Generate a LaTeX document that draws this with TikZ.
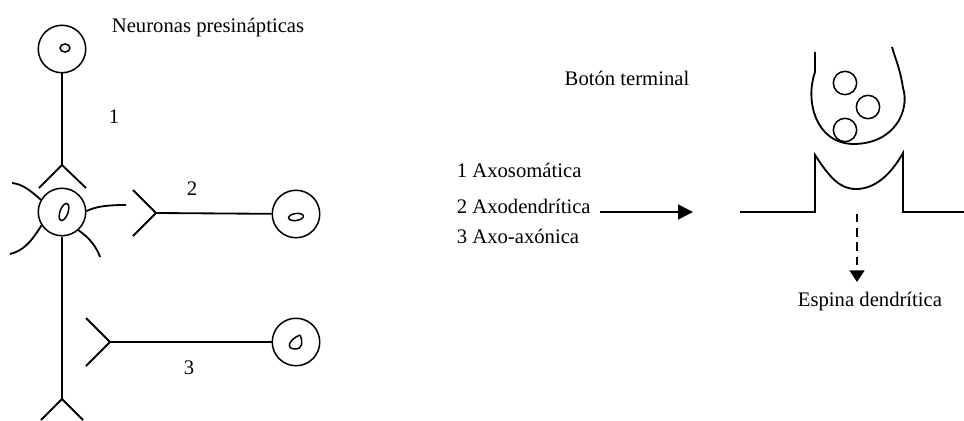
\documentclass[tikz,border=0pt]{standalone}
\usepackage{fontspec}
\setmainfont{Liberation Serif}
\usetikzlibrary{arrows.meta}

\tikzset{
  soma/.style={draw,circle,line width=0.9pt,minimum size=28.5pt,inner sep=0pt},
  vesicle/.style={draw,circle,line width=0.9pt,minimum size=14pt,inner sep=0pt},
  fiber/.style={line width=1.1pt},
}

\begin{document}
\begin{tikzpicture}[x=0.6pt,y=-0.6pt]
\useasboundingbox (0,0) rectangle (964,420);

% cells on the left
\begin{scope}[every node/.style={soma}]
    \node (pre1) at (62,49) {};
    \node (post) at (62,212) {};
    \node (pre2) at (296,214) {};
    \node (pre3) at (296,342) {};
\end{scope}
% nuclei
\begin{scope}[line width=0.9pt]
    \draw (65,48) ellipse [x radius=5, y radius=4];
    \draw[rotate around={-20:(64,212)}] (64,212) ellipse [x radius=4, y radius=9];
    \draw[rotate around={8:(296,217)}] (296,217) ellipse [x radius=7.5, y radius=3.5];
    \draw (300,335) .. controls (288,340) and (286,349) .. (295,349)
                    .. controls (303,349) and (303,342) .. (300,335);
\end{scope}

% branching points of the axons
\coordinate (v1) at (62,165);
\coordinate (v2) at (156,213);
\coordinate (v3) at (110,342);
\coordinate (v4) at (62,399);

\begin{scope}[fiber]
    \draw (pre1) -- (v1);
    \draw (39,188) -- (v1) -- (86,188);
    \draw (pre2) -- (v2);
    \draw (133,190) -- (v2) -- (133,236);
    \draw (pre3) -- (v3);
    \draw (86,318) -- (v3) -- (86,366);
    \draw (post) -- (v4);
    \draw (41,420) -- (v4) -- (83,420);
    % dendrites
    \draw (post.150) .. controls (30,190) and (22,184) .. (12,183);
    \draw (post.2) .. controls (96,206) and (110,205) .. (126,205);
    \draw (post.213) .. controls (30,244) and (22,251) .. (10,254);
    \draw (post.312) .. controls (90,238) and (97,248) .. (100,257);
\end{scope}

% synapse on the right
\begin{scope}[fiber]
    \draw (815,52) -- (815,72) .. controls (805,100) and (815,143) .. (853,144)
          .. controls (895,144) and (910,110) .. (903,88)
          .. controls (900,68) and (895,58) .. (892,47);
    \draw (740,212) -- (815,212) -- (815,155) .. controls (830,178) and (840,189) .. (856,189)
          .. controls (874,189) and (890,176) .. (903,153) -- (903,212) -- (964,212);
\end{scope}
\begin{scope}[every node/.style={vesicle}]
    \node (ves1) at (845,83) {};
    \node (ves2) at (868,107) {};
    \node (ves3) at (845,130) {};
\end{scope}

\begin{scope}[every node/.style={font=\fontsize{12.4}{15}\selectfont}]
    \node[anchor=base west] (title) at (106,33) {Neuronas presinápticas};
    \node[anchor=base] (n1) at (114,123) {1};
    \node[anchor=base] (n2) at (192,195) {2};
    \node[anchor=base] (n3) at (189,374) {3};
    \node[anchor=base west] (ax1) at (451,177) {1 Axosomática};
    \node[anchor=base west] (ax2) at (451,213) {2 Axodendrítica};
    \node[anchor=base west] (ax3) at (451,243) {3 Axo-axónica};
    \node[anchor=base] (boton) at (627,85) {Botón terminal};
    \node[anchor=base] (espina) at (870,306) {Espina dendrítica};
\end{scope}

\coordinate (a1) at (600,212);
\coordinate (a2) at (693,212);
\coordinate (d1) at (857,214);
\coordinate (d2) at (857,282);
\begin{scope}[>={Triangle[length=9pt,width=9pt]}]
    \draw[->,line width=0.9pt] (a1) -- (a2);
    \draw[->,line width=0.9pt,dash pattern=on 5pt off 3.5pt,
          >={Triangle[length=7pt,width=9pt]}] (d1) -- (d2);
\end{scope}
\end{tikzpicture}
\end{document}
